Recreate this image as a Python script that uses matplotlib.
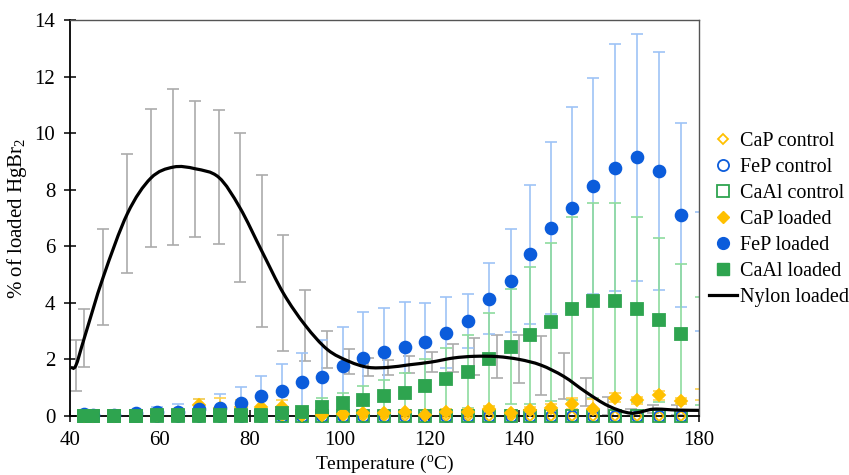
import numpy as np
import matplotlib.pyplot as plt
from matplotlib.path import Path
from matplotlib.patches import PathPatch
from matplotlib.lines import Line2D

plt.rcParams['font.family'] = ['Liberation Serif', 'DejaVu Serif']
plt.rcParams['mathtext.fontset'] = 'custom'
plt.rcParams['mathtext.rm'] = 'Liberation Serif'
plt.rcParams['mathtext.it'] = 'Liberation Serif:italic'

# temperaturas das amostras (particulas)
temp = [43.1, 45.2, 49.8, 54.8, 59.4, 64.1, 68.8, 73.4, 78.1, 82.6, 87.1,
        91.6, 96.2, 100.7, 105.3, 110.0, 114.6, 119.1, 123.8, 128.5, 133.3,
        138.1, 142.5, 147.0, 151.8, 156.5, 161.4, 166.2, 171.1, 175.9, 180.4]

cap_control = [0.0] * 31
fep_control = [0.0] * 31
caal_control = [0.0] * 31

cap_loaded = [0.0, 0.0, 0.01, 0.02, 0.05, 0.1, 0.38, 0.3, 0.33, 0.33, 0.33,
              0.02, 0.03, 0.06, 0.1, 0.1, 0.13, 0.03, 0.15, 0.13, 0.24,
              0.11, 0.2, 0.27, 0.44, 0.24, 0.65, 0.56, 0.73, 0.53, 0.75]
cap_err = [0.01, 0.01, 0.01, 0.02, 0.03, 0.08, 0.22, 0.35, 0.25, 0.3, 0.24,
           0.05, 0.05, 0.05, 0.06, 0.06, 0.07, 0.05, 0.08, 0.1, 0.1,
           0.1, 0.12, 0.15, 0.2, 0.35, 0.15, 0.12, 0.15, 0.12, 0.2]

fep_loaded = [0.08, 0.04, 0.02, 0.1, 0.13, 0.15, 0.24, 0.29, 0.47, 0.72, 0.9,
              1.21, 1.38, 1.77, 2.04, 2.25, 2.45, 2.63, 2.95, 3.36, 4.15,
              4.78, 5.71, 6.65, 7.35, 8.13, 8.78, 9.14, 8.66, 7.1, 5.1]
fep_err = [0.05, 0.03, 0.02, 0.08, 0.2, 0.26, 0.35, 0.5, 0.57, 0.71, 0.93,
           1.01, 1.29, 1.36, 1.62, 1.56, 1.59, 1.37, 1.27, 0.95, 1.25,
           1.82, 2.46, 3.05, 3.57, 3.81, 4.37, 4.37, 4.2, 3.26, 2.1]

caal_loaded = [0.01, 0.01, 0.0, 0.01, 0.02, 0.02, 0.03, 0.02, 0.02, 0.05, 0.1,
               0.15, 0.32, 0.45, 0.57, 0.71, 0.82, 1.07, 1.31, 1.57, 2.0,
               2.45, 2.86, 3.31, 3.79, 4.08, 4.07, 3.77, 3.39, 2.89, 2.3]
caal_err = [0.01, 0.01, 0.01, 0.01, 0.01, 0.01, 0.02, 0.02, 0.03, 0.05, 0.1,
            0.18, 0.32, 0.35, 0.49, 0.56, 0.71, 0.94, 1.08, 1.29, 1.63,
            2.04, 2.42, 2.79, 3.23, 3.46, 3.47, 3.26, 2.91, 2.48, 1.9]

# nylon tem suas proprias temperaturas
nylon_temp = [40.2, 41.3, 43.2, 47.4, 52.8, 58.0, 63.0, 67.9, 73.1, 77.8, 82.7,
              87.5, 92.4, 97.3, 102.1, 106.4, 110.8, 115.5, 120.5, 125.3, 130.0,
              135.1, 140.0, 144.8, 149.9, 154.8, 159.8, 164.9, 169.8, 175.0, 180.0]
nylon_loaded = [1.72, 1.78, 2.76, 4.91, 7.16, 8.41, 8.8, 8.74, 8.44, 7.37, 5.83,
                4.34, 3.2, 2.35, 1.93, 1.72, 1.72, 1.81, 1.91, 2.05, 2.11,
                2.1, 2.0, 1.8, 1.4, 0.85, 0.36, 0.1, 0.24, 0.21, 0.2]
nylon_err = [np.nan, 0.9, 1.02, 1.69, 2.12, 2.45, 2.75, 2.4, 2.37, 2.62, 2.7,
             2.05, 1.27, 0.66, 0.43, 0.32, 0.27, 0.3, 0.34, 0.48, 0.66,
             0.77, 0.85, 1.04, 0.81, 0.5, 0.32, 0.13, 0.15, 0.18, np.nan]

orange = '#FFC000'
blue = '#0B5CDB'
green = '#2EA44F'


def smooth_path(xs, ys):
    # curva suavizada tipo Excel (Catmull-Rom em Bezier)
    pts = np.column_stack([xs, ys])
    verts = [pts[0]]
    codes = [Path.MOVETO]
    n = len(pts)
    for i in range(n - 1):
        p0 = pts[max(i - 1, 0)]
        p1 = pts[i]
        p2 = pts[i + 1]
        p3 = pts[min(i + 2, n - 1)]
        verts += [p1 + (p2 - p0) / 6, p2 - (p3 - p1) / 6, p2]
        codes += [Path.CURVE4] * 3
    return Path(verts, codes)


fig = plt.figure(figsize=(8.49, 4.75), dpi=100)
ax = fig.add_axes([0.0824, 0.1242, 0.7409, 0.8337])

t = np.array(temp)
inside = t <= 180

# barras de erro
ax.errorbar(nylon_temp, nylon_loaded, yerr=nylon_err, fmt='none', ecolor='#ABABAB',
            elinewidth=1.2, capsize=4, capthick=1.2, zorder=2)
ax.errorbar(temp, fep_loaded, yerr=fep_err, fmt='none', ecolor='#9EC3F6',
            elinewidth=1.2, capsize=4, capthick=1.2, zorder=2.1)
ax.errorbar(temp, caal_loaded, yerr=caal_err, fmt='none', ecolor='#8EDC9E',
            elinewidth=1.2, capsize=4, capthick=1.2, zorder=2.2)
ax.errorbar(temp, cap_loaded, yerr=cap_err, fmt='none', ecolor='#FFD24D',
            elinewidth=1.2, capsize=4, capthick=1.2, zorder=2.3)

series = [
    (cap_control, 'D', 5.2, 'none', orange, 3.0),
    (fep_control, 'o', 8.0, 'none', blue, 3.05),
    (caal_control, 's', 8.0, 'none', green, 3.1),
    (cap_loaded, 'D', 6.0, orange, orange, 3.2),
    (fep_loaded, 'o', 8.5, blue, blue, 3.3),
    (caal_loaded, 's', 8.4, green, green, 3.4),
]
for vals, m, ms, fc, ec, z in series:
    v = np.array(vals)
    # pontos fora do eixo (x > 180) ficam sem marcador, como no Excel
    ax.plot(t[inside], v[inside], linestyle='none', marker=m, markersize=ms,
            markerfacecolor=fc, markeredgecolor=ec, markeredgewidth=1.3,
            clip_on=False, zorder=z)

ax.add_patch(PathPatch(smooth_path(nylon_temp, nylon_loaded), fill=False,
                       edgecolor='black', linewidth=2.3, zorder=4))

ax.set_xlim(40, 180)
ax.set_ylim(0, 14)
ax.set_xticks(np.arange(40, 181, 20))
ax.set_yticks(np.arange(0, 15, 2))
ax.tick_params(direction='inout', length=9, width=1.1, labelsize=15, colors='black', pad=6)

for s in ['left', 'bottom']:
    ax.spines[s].set_linewidth(1.3)
    ax.spines[s].set_color('black')
for s in ['top', 'right']:
    ax.spines[s].set_linewidth(1.0)
    ax.spines[s].set_color('#555555')

ax.set_xlabel('Temperature ($^\\mathrm{o}$C)', fontsize=14, labelpad=3)
ax.set_ylabel('% of loaded HgBr$_\\mathrm{2}$', fontsize=15, labelpad=4)

handles = [
    Line2D([], [], ls='none', marker='D', ms=5.2, mfc='none', mec=orange, mew=1.3),
    Line2D([], [], ls='none', marker='o', ms=8, mfc='none', mec=blue, mew=1.3),
    Line2D([], [], ls='none', marker='s', ms=8, mfc='none', mec=green, mew=1.3),
    Line2D([], [], ls='none', marker='D', ms=6, mfc=orange, mec=orange),
    Line2D([], [], ls='none', marker='o', ms=8.5, mfc=blue, mec=blue),
    Line2D([], [], ls='none', marker='s', ms=8.4, mfc=green, mec=green),
    Line2D([], [], color='black', lw=2.3),
]
labels = ['CaP control', 'FeP control', 'CaAl control', 'CaP loaded',
          'FeP loaded', 'CaAl loaded', 'Nylon loaded']
fig.legend(handles, labels, loc='center left', bbox_to_anchor=(0.835, 0.5375),
           frameon=False, fontsize=14.5, handlelength=1.4, handletextpad=0.15,
           labelspacing=0.34, borderpad=0, borderaxespad=0)

fig.savefig('out.png', dpi=100)
